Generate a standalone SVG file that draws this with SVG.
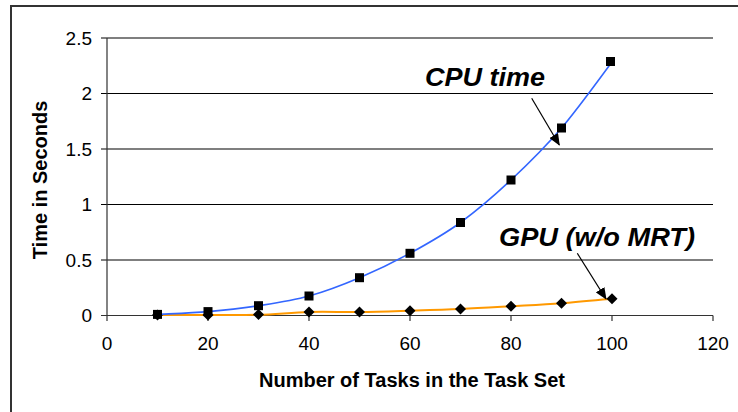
<svg xmlns="http://www.w3.org/2000/svg" width="738" height="412" viewBox="0 0 738 412">
<defs>
<style>
.grid{stroke:#000;stroke-width:1.2;fill:none}
.axis{stroke:#333;stroke-width:1.2;fill:none}
.tick{font-family:"Liberation Sans",Arial,sans-serif;font-size:19px;fill:#000}
.title{font-family:"Liberation Sans",Arial,sans-serif;font-size:20px;font-weight:bold;fill:#000}
.note{font-family:"Liberation Sans",Arial,sans-serif;font-size:26px;font-weight:bold;font-style:italic;fill:#000}
.arrow{stroke:#000;stroke-width:1.2;fill:none;marker-end:url(#ah)}
</style>
<marker id="ah" markerWidth="12" markerHeight="10" refX="11" refY="5" orient="auto" markerUnits="userSpaceOnUse">
<path d="M0,0 L12,5 L0,10 Z" fill="#000"/>
</marker>
<rect id="sq" x="-4.5" y="-4.5" width="9" height="9" fill="#000"/>
<path id="dm" d="M0,-5.5 L5.5,0 L0,5.5 L-5.5,0 Z" fill="#000"/>
</defs>
<rect width="738" height="412" fill="#fff"/>
<g id="frame" stroke="#333" stroke-width="2" fill="none">
<path d="M11,6 H738 M11,5 V412"/>
</g>
<g id="grid">
<path class="grid" d="M101,38 H713 M101,93.5 H713 M101,149 H713 M101,204.5 H713 M101,260 H713"/>
</g>
<g id="axes">
<path class="axis" d="M107,38 V321 M101,315.5 H713 M208,315.5 V321 M309,315.5 V321 M410,315.5 V321 M511,315.5 V321 M612,315.5 V321 M713,315.5 V321"/>
</g>
<g id="y-labels" class="tick" text-anchor="end">
<text x="92" y="44.5">2.5</text>
<text x="92" y="100">2</text>
<text x="92" y="155.5">1.5</text>
<text x="92" y="211">1</text>
<text x="92" y="266.5">0.5</text>
<text x="92" y="322">0</text>
</g>
<g id="x-labels" class="tick" text-anchor="middle">
<text x="107" y="350">0</text>
<text x="208" y="350">20</text>
<text x="309" y="350">40</text>
<text x="410" y="350">60</text>
<text x="511" y="350">80</text>
<text x="612" y="350">100</text>
<text x="713" y="350">120</text>
</g>
<g id="axis-titles" class="title" text-anchor="middle">
<text x="412" y="386.5">Number of Tasks in the Task Set</text>
<text transform="translate(47,180) rotate(-90)" x="0" y="0">Time in Seconds</text>
</g>
<g id="gpu-series">
<path fill="none" stroke="#FF9900" stroke-width="2" d="M157.5,315 C165.9,315 191.2,315 208,315 C224.8,315 241.7,315.3 258.5,314.8 C275.3,314.3 292.2,312.47 309,312 C325.8,311.53 342.7,312.22 359.5,312 C376.3,311.78 393.2,311.2 410,310.7 C426.8,310.2 443.7,309.73 460.5,309 C477.3,308.27 494.2,307.25 511,306.3 C527.8,305.35 544.7,304.57 561.5,303.3 C578.3,302.03 603.6,299.47 612,298.7"/>
<use href="#dm" x="157.5" y="315"/>
<use href="#dm" x="208" y="315"/>
<use href="#dm" x="258.5" y="314.5"/>
<use href="#dm" x="309" y="312"/>
<use href="#dm" x="359.5" y="312"/>
<use href="#dm" x="410" y="310.7"/>
<use href="#dm" x="460.5" y="309"/>
<use href="#dm" x="511" y="306.3"/>
<use href="#dm" x="561.5" y="303.3"/>
<use href="#dm" x="612" y="298.7"/>
</g>
<g id="cpu-series">
<path fill="none" stroke="#3366FF" stroke-width="1.6" d="M157.5,314.4 C165.9,313.9 191.2,313.05 208,311.6 C224.8,310.15 241.7,308.3 258.5,305.7 C275.3,303.1 292.2,300.67 309,296 C325.8,291.33 342.7,284.82 359.5,277.7 C376.3,270.58 393.2,262.5 410,253.3 C426.8,244.1 443.7,234.72 460.5,222.5 C477.3,210.28 494.2,195.75 511,180 C527.8,164.25 544.7,147.67 561.5,128 C578.3,108.33 603.6,73 612,62"/>
<use href="#sq" x="157.5" y="314.4"/>
<use href="#sq" x="208" y="311.6"/>
<use href="#sq" x="258.5" y="305.7"/>
<use href="#sq" x="309" y="296"/>
<use href="#sq" x="359.5" y="277.7"/>
<use href="#sq" x="410" y="253.3"/>
<use href="#sq" x="460.5" y="222.5"/>
<use href="#sq" x="511" y="180"/>
<use href="#sq" x="561.5" y="128"/>
<use href="#sq" x="610.5" y="61.5"/>
</g>
<g id="cpu-label">
<text class="note" x="425" y="86" textLength="120" lengthAdjust="spacingAndGlyphs">CPU time</text>
</g>
<g id="gpu-label">
<text class="note" x="499" y="245.5" textLength="196" lengthAdjust="spacingAndGlyphs">GPU (w/o MRT)</text>
</g>
<g id="connectors">
<path class="arrow" d="M531.7,98.3 L559.3,145"/>
<path class="arrow" d="M577.3,253.3 L606,299"/>
</g>
</svg>
